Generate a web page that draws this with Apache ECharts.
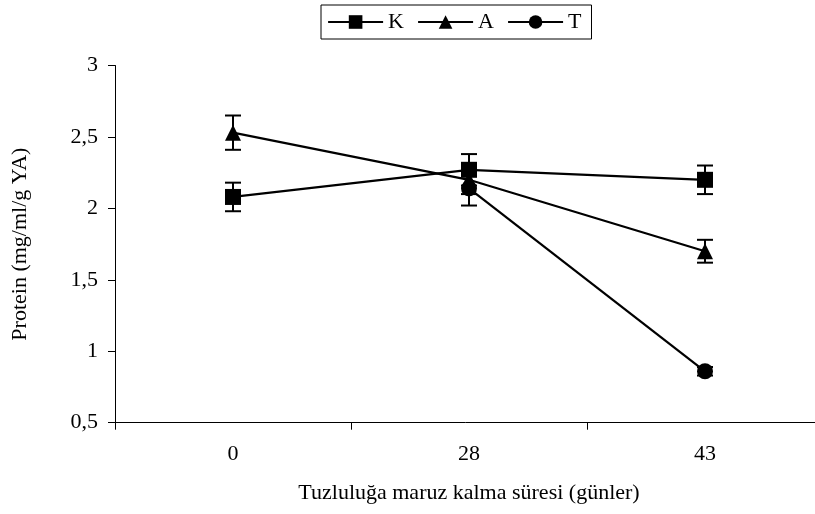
<!DOCTYPE html>
<html>
<head>
<meta charset="utf-8">
<script src="https://cdn.jsdelivr.net/npm/echarts@6/dist/echarts.min.js"></script>
<style>
  html, body { margin: 0; padding: 0; background: #fff; }
  #chart { width: 815px; height: 514px; }
</style>
</head>
<body>
<div id="chart"></div>
<script>
// Exposure time to salinity (days)
const days = ['0', '28', '43'];

// Protein content means and standard errors per treatment
const seriesNames = ['K', 'A', 'T'];
const kMean = [2.08, 2.27, 2.20];
const kErr  = [0.10, 0.11, 0.10];
const aMean = [2.53, 2.20, 1.70];
const aErr  = [0.12, 0.10, 0.08];
const tMean = ['-', 2.14, 0.86];
const tErr  = ['-', 0.12, 0.03];

const yTicks = [0.5, 1, 1.5, 2, 2.5, 3];

const FONT = '"Liberation Serif", "Times New Roman", serif';

function errorBars(name, means, errs) {
  const data = [];
  means.forEach((m, i) => {
    if (typeof m === 'number') data.push([i, m - errs[i], m + errs[i]]);
  });
  return {
    name: name + '-err',
    type: 'custom',
    silent: true,
    z: 3,
    data: data,
    renderItem: function (params, api) {
      const x = api.value(0);
      const lo = api.coord([x, api.value(1)]);
      const hi = api.coord([x, api.value(2)]);
      const cap = 8;
      const style = { stroke: '#000', lineWidth: 2 };
      return {
        type: 'group',
        children: [
          { type: 'line', shape: { x1: lo[0], y1: lo[1], x2: hi[0], y2: hi[1] }, style },
          { type: 'line', shape: { x1: lo[0] - cap, y1: lo[1], x2: lo[0] + cap, y2: lo[1] }, style },
          { type: 'line', shape: { x1: hi[0] - cap, y1: hi[1], x2: hi[0] + cap, y2: hi[1] }, style }
        ]
      };
    }
  };
}

function lineSeries(name, data, symbol, size) {
  return {
    name: name,
    type: 'line',
    data: data,
    symbol: symbol,
    symbolSize: size,
    z: 4,
    lineStyle: { color: '#000', width: 2.2 },
    itemStyle: { color: '#000' },
    emphasis: { disabled: true }
  };
}

const chart = echarts.init(document.getElementById('chart'), null, { renderer: 'canvas' });
chart.setOption({
  animation: false,
  backgroundColor: '#fff',
  textStyle: { fontFamily: FONT, color: '#000' },
  legend: {
    data: seriesNames,
    top: 5,
    left: 321,
    padding: [6, 10, 6, 6],
    itemGap: 13,
    itemWidth: 55,
    itemHeight: 17,
    borderColor: '#000',
    borderWidth: 1,
    lineStyle: { width: 2.2, color: '#000' },
    itemStyle: { color: '#000' },
    textStyle: { fontFamily: FONT, fontSize: 22, color: '#000' }
  },
  // The x axis runs on past the right edge of the canvas
  grid: { left: 115, width: 708, top: 65.5, bottom: 91.3, containLabel: false, outerBoundsMode: 'none' },
  xAxis: {
    type: 'category',
    data: days,
    boundaryGap: true,
    axisLine: { lineStyle: { color: '#000', width: 1 } },
    axisTick: { show: true, alignWithLabel: false, length: 7, lineStyle: { color: '#000' } },
    axisLabel: { color: '#000', fontFamily: FONT, fontSize: 22, margin: 21 },
    name: 'Tuzluluğa maruz kalma süresi (günler)',
    nameLocation: 'middle',
    nameGap: 60,
    nameTextStyle: { color: '#000', fontFamily: FONT, fontSize: 22 },
    splitLine: { show: false }
  },
  yAxis: {
    type: 'value',
    min: yTicks[0],
    max: yTicks[yTicks.length - 1],
    interval: 0.5,
    axisLine: { show: true, lineStyle: { color: '#000', width: 1 } },
    axisTick: { show: true, length: 7, lineStyle: { color: '#000' } },
    axisLabel: {
      color: '#000', fontFamily: FONT, fontSize: 22, margin: 17,
      formatter: v => String(v).replace('.', ',')
    },
    splitLine: { show: false },
    name: 'Protein (mg/ml/g YA)',
    nameLocation: 'middle',
    nameGap: 84,
    nameRotate: 90,
    nameTextStyle: { color: '#000', fontFamily: FONT, fontSize: 22 }
  },
  series: [
    lineSeries('A', aMean, 'triangle', 16),
    lineSeries('K', kMean, 'rect', 16),
    lineSeries('T', tMean, 'circle', 16),
    errorBars('A', aMean, aErr),
    errorBars('K', kMean, kErr),
    errorBars('T', tMean, tErr)
  ]
});
</script>
</body>
</html>
